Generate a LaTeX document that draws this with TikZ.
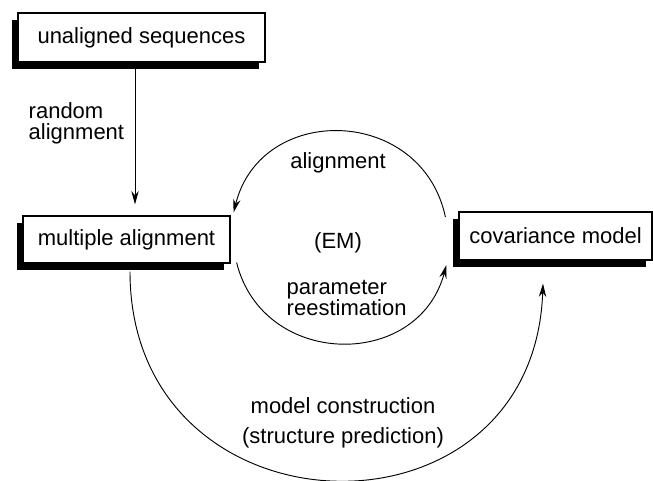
\documentclass[tikz,border=0pt]{standalone}
\usepackage{fontspec}
\setmainfont{Liberation Sans}
\usepackage{tikz}
\usetikzlibrary{arrows.meta, positioning, calc, shadows}

\begin{document}
\begin{tikzpicture}[
		x=0.75pt, y=0.75pt,
		box/.style={draw, line width=0.9pt, fill=white, inner sep=0pt, align=center,
			font=\fontsize{16.5}{19}\selectfont,
			drop shadow={shadow xshift=-4.5pt, shadow yshift=-5.5pt, fill=black, opacity=1}},
		lbl/.style={font=\fontsize{16.5}{15.5}\selectfont},
		conn/.style={line width=0.7pt, -{Stealth[length=10pt, width=5.5pt]}},
		>=Stealth
	]
	\useasboundingbox (0,0) rectangle (653,-481);

	% boxes
	\node[box, minimum width=185.25pt, minimum height=36.75pt] (unal) at (141.5,-37.5) {unaligned sequences};
	\node[box, minimum width=155.25pt, minimum height=35.25pt] (multi) at (126.5,-239.5) {multiple alignment};
	\node[box, minimum width=144.75pt, minimum height=36pt] (cov) at (555.5,-236) {covariance model};

	% random alignment
	\draw[conn] ([shift={(-6.5,0)}]unal.south) -- ([shift={(8.5,11)}]multi.north);
	\node[lbl, anchor=west, align=left] (rand) at (24,-123) {random\\alignment};

	% EM loop
	\coordinate (emR) at ([shift={(-13,19)}]cov.west);
	\coordinate (emL) at ([shift={(3,3)}]multi.north east);
	\coordinate (emBL) at ([shift={(6,1)}]multi.south east);
	\coordinate (emBR) at ([shift={(-12,-29)}]cov.west);
	\draw[conn] (emR) to[out=102, in=76, looseness=1.37] (emL);
	\draw[conn] (emBL) to[out=-76, in=-105, looseness=1.33] (emBR);
	\node[lbl] (aln) at (338,-163) {alignment};
	\node[lbl] (em) at (338,-243) {(EM)};
	\node[lbl, anchor=west, align=left] (reest) at (282,-298) {parameter\\reestimation};

	% model construction
	\draw[conn] ([shift={(3.5,-8)}]multi.south) to[out=-90, in=-92, looseness=1.67] ([shift={(-12.5,-23)}]cov.south);
	\node[lbl, align=center, font=\fontsize{16.5}{22.5}\selectfont] (mc) at (343,-423) {model construction\\(structure prediction)};
\end{tikzpicture}
\end{document}
